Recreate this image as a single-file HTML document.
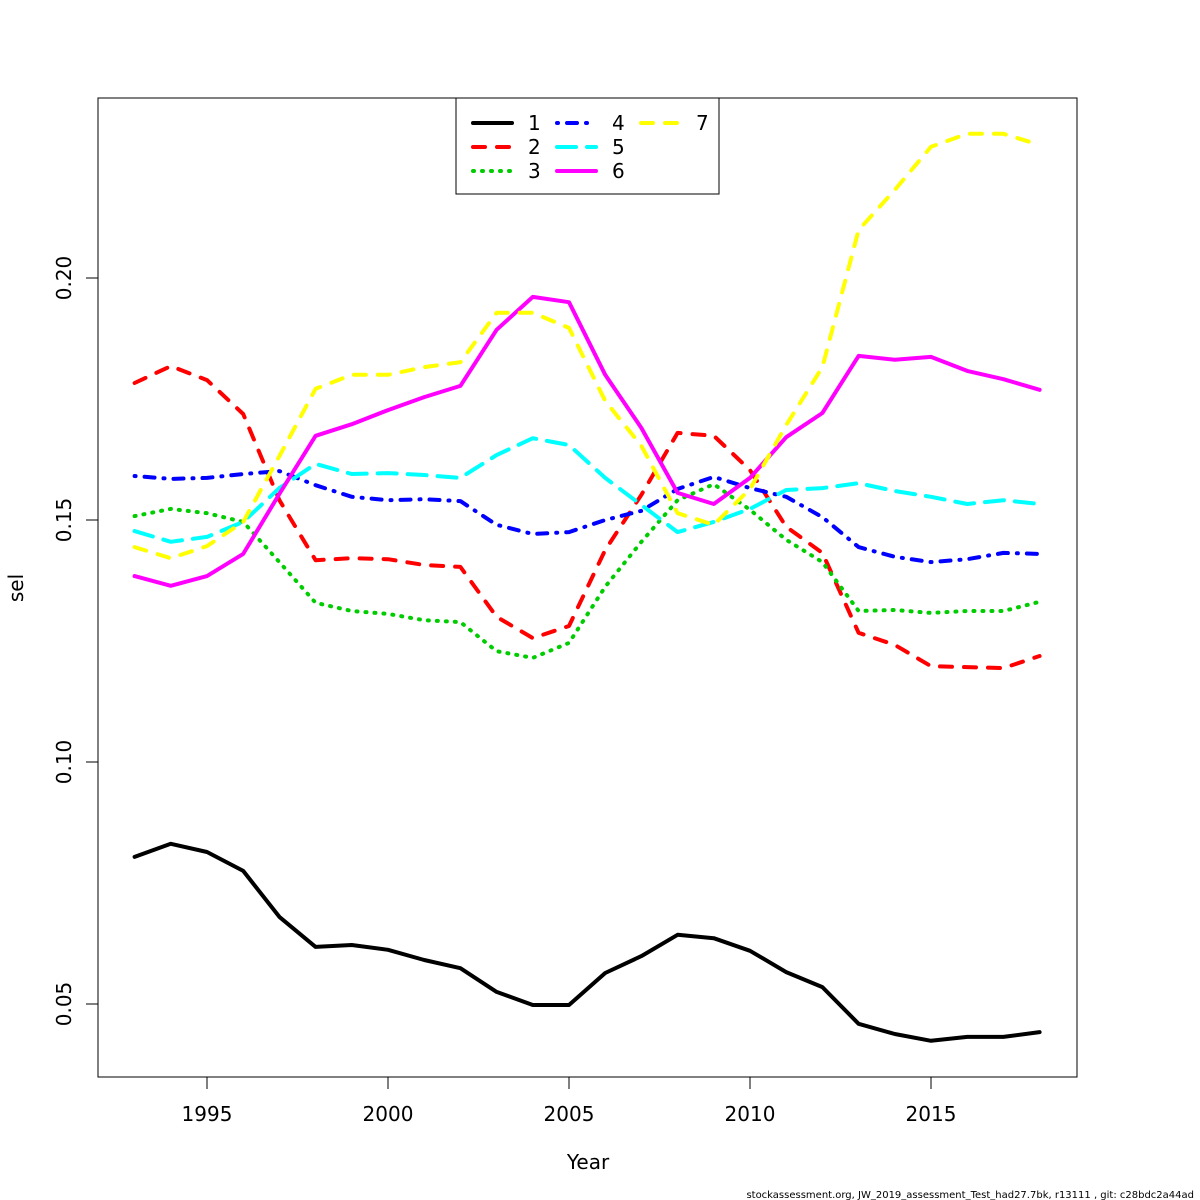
<!DOCTYPE html>
<html><head><meta charset="utf-8"><style>
html,body{margin:0;padding:0;background:#fff}
svg{display:block;font-family:"DejaVu Sans","Liberation Sans",sans-serif}
</style></head><body>
<svg id="chart" width="1200" height="1200" viewBox="0 0 1200 1200">
<rect x="98" y="98" width="979" height="979" fill="none" stroke="#000" stroke-width="1"/>
<g id="xaxis"></g>
<g id="yaxis"></g>
<g id="series"></g>
<text x="588" y="1169" font-size="20" text-anchor="middle">Year</text>
<text transform="translate(23,588) rotate(-90)" font-size="20" text-anchor="middle">sel</text>
<text x="1194" y="1198" font-size="10" text-anchor="end">stockassessment.org, JW_2019_assessment_Test_had27.7bk, r13111 , git: c28bdc2a44ad</text>
<g id="legend"></g>
</svg>
<script>
const years=[1993,1994,1995,1996,1997,1998,1999,2000,2001,2002,2003,2004,2005,2006,2007,2008,2009,2010,2011,2012,2013,2014,2015,2016,2017,2018];
const s1=[.0804,.0831,.0814,.0775,.0680,.0618,.0622,.0612,.0591,.0574,.0525,.0498,.0498,.0564,.0599,.0643,.0636,.0610,.0566,.0535,.0459,.0438,.0424,.0432,.0432,.0442];
const s2=[.1783,.1818,.1789,.1719,.1541,.1417,.1421,.1419,.1407,.1403,.1300,.1256,.1281,.1438,.1552,.1680,.1674,.1603,.1486,.1432,.1267,.1242,.1198,.1196,.1194,.1219];
const s3=[.1508,.1523,.1514,.1496,.1413,.1329,.1312,.1306,.1293,.1289,.1229,.1215,.1246,.1362,.1455,.1541,.1574,.1521,.1459,.1413,.1312,.1314,.1308,.1312,.1312,.1331];
const s4=[.1591,.1585,.1587,.1595,.1601,.1572,.1548,.1541,.1543,.1539,.1490,.1471,.1475,.1500,.1519,.1564,.1589,.1566,.1548,.1506,.1444,.1424,.1413,.1419,.1432,.1430];
const s5=[.1477,.1455,.1465,.1496,.1566,.1616,.1595,.1597,.1593,.1587,.1634,.1669,.1655,.1587,.1531,.1475,.1496,.1523,.1562,.1566,.1576,.1560,.1548,.1533,.1541,.1533];
const s6=[.1384,.1364,.1384,.1430,.1554,.1674,.1698,.1727,.1754,.1777,.1893,.1961,.1950,.1800,.1690,.1556,.1533,.1587,.1671,.1721,.1839,.1831,.1837,.1808,.1791,.1769];
const s7=[.1444,.1421,.1446,.1496,.1632,.1771,.1800,.1800,.1816,.1826,.1928,.1928,.1897,.1746,.1653,.1514,.1490,.1564,.1696,.1816,.2099,.2182,.2271,.2298,.2298,.2275];
const xTicks=[1995,2000,2005,2010,2015];
const yTicks=[0.05,0.10,0.15,0.20];
const yTickLabels=["0.05","0.10","0.15","0.20"];
const seriesNames=["1","2","3","4","5","6","7"];

const NS="http://www.w3.org/2000/svg";
const X=y=>207+(y-1995)*36.2;
const Y=v=>278+(0.20-v)*4840;
function mk(tag,attrs,parent){const e=document.createElementNS(NS,tag);for(const k in attrs)e.setAttribute(k,attrs[k]);parent.appendChild(e);return e;}
const xa=document.getElementById('xaxis'),ya=document.getElementById('yaxis');
mk('line',{x1:X(xTicks[0]),x2:X(xTicks[xTicks.length-1]),y1:1077,y2:1077,stroke:'#000'},xa);
xTicks.forEach(t=>{
  const l=mk('line',{x1:X(t),x2:X(t),y1:1077,y2:1089,stroke:'#000'},xa);
  
  
  const tx=mk('text',{x:X(t),y:1121,'font-size':20,'text-anchor':'middle'},xa);
  tx.textContent=t;
  
  
});
mk('line',{x1:98,x2:98,y1:Y(yTicks[0]),y2:Y(yTicks[yTicks.length-1]),stroke:'#000'},ya);
yTicks.forEach((t,i)=>{
  const l=mk('line',{x1:86,x2:98,y1:Y(t),y2:Y(t),stroke:'#000'},ya);
  
  
  const tx=mk('text',{transform:`translate(71,${Y(t)}) rotate(-90)`,'font-size':20,'text-anchor':'middle'},ya);
  tx.textContent=yTickLabels[i];
  
  
});
const series=[s1,s2,s3,s4,s5,s6,s7];
const colors=['#000','#ff0000','#00cd00','#0000ff','#00ffff','#ff00ff','#ffff00'];
const dashes=['none','12 12','1 8','1 9 10 9','19 11','none','12 12'];
const sg=document.getElementById('series');
series.forEach((s,i)=>{
  const d=s.map((v,j)=>(j?'L':'M')+X(years[j]).toFixed(1)+','+Y(v).toFixed(1)).join('');
  const p=mk('path',{d:d,fill:'none',stroke:colors[i],'stroke-width':4,'stroke-dasharray':dashes[i],'stroke-linejoin':'round','stroke-linecap':'round'},sg);
  
  
});
const lg=document.getElementById('legend');
mk('rect',{x:456,y:98,width:263,height:96,fill:'#fff',stroke:'#000'},lg);
series.forEach((s,i)=>{
  const col=Math.floor(i/3),row=i%3;
  const lx=473+col*84,ly=123+row*24;
  const g=mk('g',{},lg);
  
  
  mk('line',{x1:lx,x2:lx+39,y1:ly,y2:ly,stroke:colors[i],'stroke-width':4,'stroke-dasharray':dashes[i],'stroke-linecap':'round'},g);
  const t=mk('text',{x:lx+55,y:ly+7,'font-size':20},g);
  t.textContent=seriesNames[i];
});
</script>
</body></html>
